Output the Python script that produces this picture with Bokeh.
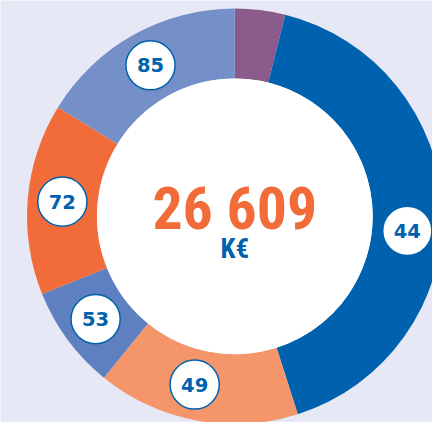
import math
from bokeh.plotting import figure
from bokeh.models import ColumnDataSource, Range1d
from bokeh.core.properties import value
from bokeh.embed import file_html
from bokeh.resources import INLINE

# Data (clockwise from 12 o'clock), share of total in %
segments = ["violet", "bleu foncé", "saumon", "bleu moyen", "orange", "bleu clair"]
shares = [3.9, 41.2, 15.75, 8.05, 14.9, 16.2]
labels = ["", "44", "49", "53", "72", "85"]
colors = ["#8B5B8B", "#0062AE", "#F4956A", "#5F80C0", "#F26C3A", "#7590C8"]
total_text = "26 609"
unit_text = "K€"

BG = "#E7E8F6"
R_IN, R_OUT = 143, 215.5
R_LABEL = 179.5
label_nudge = {"44": 6.6, "49": 2.7}
S = 432 / 448.0

p = figure(width=432, height=422, output_backend="svg", toolbar_location=None,
           x_range=Range1d(-243, 205), y_range=Range1d(-214, 224),
           min_border=0, background_fill_color=BG, border_fill_color=BG,
           outline_line_color=None)
p.axis.visible = False
p.grid.visible = False

tot = sum(shares)
starts, ends, mids = [], [], []
acc = 0.0
for s in shares:
    a0 = acc / tot * 360.0
    acc += s
    a1 = acc / tot * 360.0
    starts.append(math.radians(90 - a0))
    ends.append(math.radians(90 - a1))
    mids.append((a0 + a1) / 2)

src = ColumnDataSource(dict(start=starts, end=ends, color=colors))
p.annular_wedge(x=0, y=0, inner_radius=R_IN, outer_radius=R_OUT,
                start_angle="start", end_angle="end", direction="clock",
                fill_color="color", line_color=None, source=src)
p.circle(x=0, y=0, radius=R_IN, fill_color="white", line_color=None)

lx, ly, lt = [], [], []
for lab, m in zip(labels, mids):
    if not lab:
        continue
    a = math.radians(m + label_nudge.get(lab, 0))
    lx.append(R_LABEL * math.sin(a))
    ly.append(R_LABEL * math.cos(a))
    lt.append(lab)
lsrc = ColumnDataSource(dict(x=lx, y=ly, t=lt))
p.circle(x="x", y="y", radius=25.5, fill_color="white", line_color="#0062AE",
         line_width=1.5, source=lsrc)
p.text(x="x", y="y", text="t", source=lsrc, text_align="center",
       text_baseline="middle", text_font=value("DejaVu Sans"),
       text_font_style="bold", text_font_size="19.5px", text_color="#0062AE")

cond = value("Roboto Condensed, DejaVu Sans Condensed, Roboto")
p.text(x=[0], y=[8], text=[total_text], text_align="center",
       text_baseline="middle", text_font=cond,
       text_font_style="bold", text_font_size=f"{62*S:.1f}px", text_color="#F26C3A")
p.text(x=[0], y=[-34], text=[unit_text], text_align="center",
       text_baseline="middle", text_font=cond,
       text_font_style="bold", text_font_size=f"{28*S:.1f}px", text_color="#0062AE")

open("out.html", "w").write(file_html(p, INLINE))
